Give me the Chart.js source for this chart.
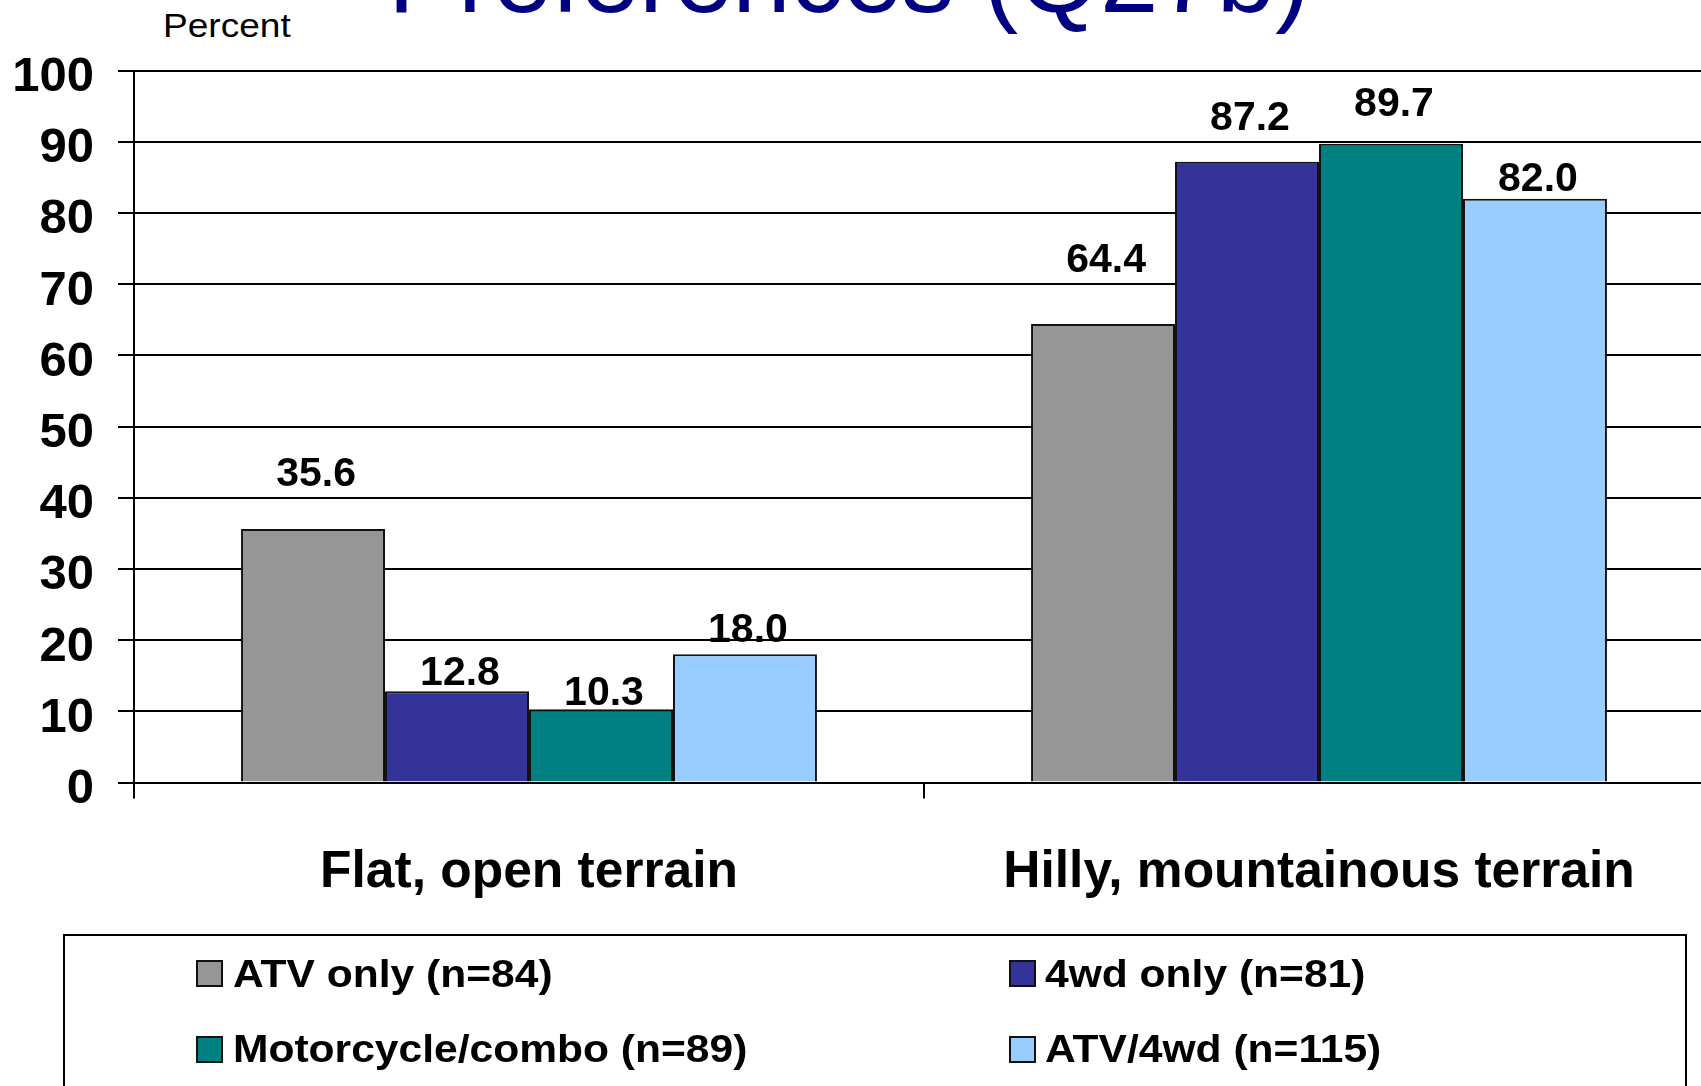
<!DOCTYPE html>
<html>
<head>
<meta charset="utf-8">
<script src="https://cdn.jsdelivr.net/npm/chart.js@4.4.1/dist/chart.umd.min.js"></script>
<style>
  html, body { margin: 0; padding: 0; background: #fff; }
  body { width: 1701px; height: 1086px; overflow: hidden; position: relative; font-family: 'Liberation Sans', Arial, sans-serif; }
  #chart { position: absolute; left: 0; top: 0; }
  .title { position: absolute; left: 388px; top: -77px; font-size: 105px; line-height: 105px; color: #000080; white-space: nowrap; }
  .unit { position: absolute; left: 163px; top: 8px; font-size: 34px; line-height: 34px; color: #000; white-space: nowrap; transform: scaleX(1.09); transform-origin: left top; }
  .legend-box { position: absolute; left: 63px; top: 934px; width: 1624px; height: 200px; border: 2px solid #000; box-sizing: border-box; background: transparent; }
  .sw { position: absolute; width: 27px; height: 27px; border: 2px solid #111; box-sizing: border-box; }
  .lt { position: absolute; font-size: 38px; line-height: 38px; font-weight: bold; color: #000; white-space: nowrap; transform: scaleX(1.12); transform-origin: left top; }
</style>
</head>
<body>
<div class="title">Preferences (Q27b)</div>
<div class="unit">Percent</div>
<canvas id="chart" width="1720" height="1086" style="width:1720px;height:1086px;"></canvas>
<div class="legend-box"></div>
<div id="legend"></div>
<script>
// ---- data ----
const categories = ['Flat, open terrain', 'Hilly, mountainous terrain'];
const seriesNames = ['ATV only (n=84)', '4wd only (n=81)', 'Motorcycle/combo (n=89)', 'ATV/4wd (n=115)'];
const atvOnly   = [35.6, 64.4];
const fwdOnly   = [12.8, 87.2];
const motoCombo = [10.3, 89.7];
const atv4wd    = [18.0, 82.0];
const yTickValues = [0, 10, 20, 30, 40, 50, 60, 70, 80, 90, 100];

// ---- styles ----
const seriesColors = ['#969696', '#333399', '#008080', '#99CCFF'];
const labelGaps = [[43, 52], [6, 32], [4, 28], [12, 8]]; // label lift above bar (style)
const FONT = "'Liberation Sans', Arial, sans-serif";

const seriesValues = [atvOnly, fwdOnly, motoCombo, atv4wd];

const valueLabels = {
  id: 'valueLabels',
  afterDatasetsDraw(chart) {
    const ctx = chart.ctx;
    ctx.save();
    ctx.font = 'bold 41px ' + FONT;
    ctx.fillStyle = '#000';
    ctx.textAlign = 'center';
    ctx.textBaseline = 'alphabetic';
    chart.data.datasets.forEach((ds, di) => {
      const meta = chart.getDatasetMeta(di);
      meta.data.forEach((bar, i) => {
        const v = ds.data[i];
        ctx.fillText(v.toFixed(1), bar.x + 3, bar.y - labelGaps[di][i]);
      });
    });
    ctx.restore();
  }
};

const chart = new Chart(document.getElementById('chart'), {
  type: 'bar',
  data: {
    labels: categories,
    datasets: seriesValues.map((vals, i) => ({
      label: seriesNames[i],
      data: vals,
      backgroundColor: seriesColors[i],
      borderColor: '#111',
      borderWidth: 2,
      categoryPercentage: 0.729,
      barPercentage: 1.0
    }))
  },
  options: {
    responsive: false,
    maintainAspectRatio: false,
    devicePixelRatio: 1,
    animation: false,
    layout: { padding: { left: 14, top: 70.5, right: 6, bottom: 173.5 } },
    plugins: {
      legend: { display: false },
      tooltip: { enabled: false },
      title: { display: false }
    },
    scales: {
      x: {
        offset: true,
        grid: { offset: true, drawOnChartArea: false, drawTicks: true, tickLength: 16, color: '#000', lineWidth: 2 },
        border: { display: true, color: '#000', width: 2 },
        ticks: { color: '#000', font: { family: FONT, size: 51.5, weight: 'bold' }, padding: 43, maxRotation: 0, autoSkip: false },
        afterFit(scale) { scale.height = 130; }
      },
      y: {
        min: 0,
        max: 100,
        afterBuildTicks(scale) { scale.ticks = yTickValues.map(v => ({ value: v })); },
        grid: { color: '#000', lineWidth: 2, tickLength: 16, drawTicks: true },
        border: { display: true, color: '#000', width: 2 },
        ticks: { color: '#000', font: { family: FONT, size: 49, weight: 'bold' }, padding: 24, labelOffset: 7 },
        afterFit(scale) { scale.width = 120; }
      }
    }
  },
  plugins: [valueLabels]
});

// ---- legend built from datasets ----
const legendEl = document.getElementById('legend');
const colX = [[196, 233], [1009, 1045]];
const rowY = [[960, 954.5], [1036, 1029.5]];
chart.data.datasets.forEach((ds, i) => {
  const c = i % 2, r = Math.floor(i / 2);
  const sw = document.createElement('div');
  sw.className = 'sw';
  sw.style.left = colX[c][0] + 'px';
  sw.style.top = rowY[r][0] + 'px';
  sw.style.background = ds.backgroundColor;
  legendEl.appendChild(sw);
  const t = document.createElement('div');
  t.className = 'lt';
  t.style.left = colX[c][1] + 'px';
  t.style.top = rowY[r][1] + 'px';
  t.textContent = ds.label;
  legendEl.appendChild(t);
});
</script>
</body>
</html>
